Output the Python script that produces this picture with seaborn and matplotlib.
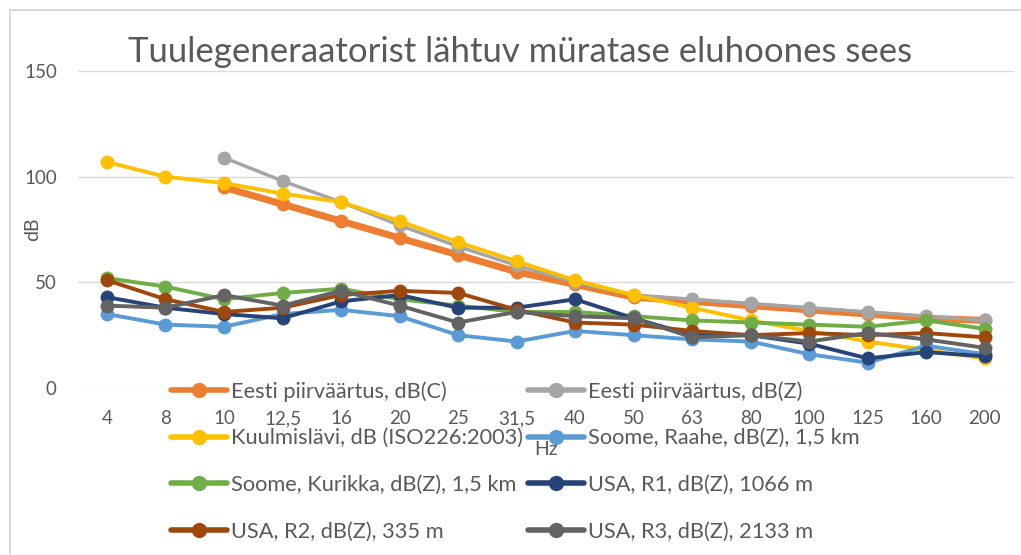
# Tuulegeneraatorist lähtuv müratase eluhoones sees
import numpy as np
import pandas as pd
import seaborn as sns
import matplotlib.pyplot as plt
from matplotlib.patches import Rectangle
from matplotlib.lines import Line2D

hz = ['4', '8', '10', '12,5', '16', '20', '25', '31,5', '40', '50', '63', '80', '100', '125', '160', '200']
nan = np.nan

eesti_c = [nan, nan, 95, 87, 79, 71, 63, 55, 49, 43, 41, 39, 37, 35, 33, 32]
eesti_z = [nan, nan, 109, 98, 88, 77, 67, 58, 50, 44, 42, 40, 38, 36, 34, 32]
kuulmis = [107, 100, 97, 92, 88, 79, 69, 60, 51, 44, 38, 32, 27, 22, 18, 14]
raahe = [35, 30, 29, 35, 37, 34, 25, 22, 27, 25, 23, 22, 16, 12, 20, 16]
kurikka = [52, 48, 42, 45, 47, 42, 39, 36, 36, 34, 32, 31, 30, 29, 32, 28]
usa_r1 = [43, 38, 35, 33, 41, 44, 38, 38, 42, 33, 25, 25, 21, 14, 17, 15]
usa_r2 = [51, 42, 36, 38, 44, 46, 45, 37, 31, 30, 27, 25, 26, 25, 26, 24]
usa_r3 = [39, 38, 44, 39, 46, 39, 31, 36, 34, 33, 24, 25, 22, 26, 23, 19]

series = [
    ('Eesti piirväärtus, dB(C)', eesti_c, '#ED7D31', 5),
    ('Eesti piirväärtus, dB(Z)', eesti_z, '#A5A5A5', 2.5),
    ('Kuulmislävi, dB (ISO226:2003)', kuulmis, '#FFC000', 2.8),
    ('Soome, Raahe, dB(Z), 1,5 km', raahe, '#5B9BD5', 2.8),
    ('Soome, Kurikka, dB(Z), 1,5 km', kurikka, '#70AD47', 2.8),
    ('USA, R1, dB(Z), 1066 m', usa_r1, '#264478', 2.8),
    ('USA, R2, dB(Z), 335 m', usa_r2, '#9E480E', 2.8),
    ('USA, R3, dB(Z), 2133 m', usa_r3, '#636363', 2.8),
]

sns.set_style('white')
plt.rcParams['font.family'] = ['Lato', 'DejaVu Sans']
txt = '#595959'

fig = plt.figure(figsize=(10.21, 5.55), dpi=100)
ax = fig.add_axes([0.0761, 0.3009, 0.917, 0.571])
# chart area border (cropped on the right and bottom)
fig.patches.append(Rectangle((9.5 / 1021, -0.1), 1.2, 1.1 - 9.5 / 555, transform=fig.transFigure,
                             fill=False, edgecolor='#d9d9d9', lw=1.5))

pos = np.arange(len(hz))
for name, vals, col, lw in series:
    df = pd.DataFrame({'x': pos, 'y': vals}).dropna()
    sns.lineplot(data=df, x='x', y='y', ax=ax, color=col, lw=lw, marker='o',
                 markersize=10, markeredgewidth=0, legend=False)

ax.set_xlim(-0.5, len(hz) - 0.5)
ax.set_ylim(0, 150)
ax.set_yticks([0, 50, 100, 150])
ax.set_xticks(pos)
ax.set_xticklabels(hz)
ax.grid(axis='y', color='#d9d9d9', lw=1)
ax.set_axisbelow(True)
for s in ax.spines.values():
    s.set_visible(False)
ax.tick_params(axis='x', length=0, pad=16, labelsize=13.5, labelcolor=txt)
ax.tick_params(axis='y', length=0, pad=15, labelsize=13.5, labelcolor=txt)

ax.set_xlabel('Hz', fontsize=14, color=txt)
ax.xaxis.set_label_coords(0.5, -0.168)
ax.set_ylabel('dB', fontsize=14, color=txt)
ax.yaxis.set_label_coords(-0.039, 0.5)

fig.text(0.509, 1 - 62 / 555, 'Tuulegeneraatorist lähtuv müratase eluhoones sees',
         ha='center', va='baseline', fontsize=25, color=txt)

# Excel fills legend row by row; matplotlib fills column by column
handles = [Line2D([], [], color=col, lw=4, marker='o', markersize=11, markeredgewidth=0)
           for _, _, col, _ in series]
labels = [name for name, _, _, _ in series]
order = [0, 2, 4, 6, 1, 3, 5, 7]
ax.legend([handles[i] for i in order], [labels[i] for i in order], ncol=2,
          loc='upper left', bbox_to_anchor=(171 / 1021, 1 - 381 / 555),
          bbox_transform=fig.transFigure, frameon=False, fontsize=15.7,
          borderpad=0, borderaxespad=0, handlelength=2.55, handletextpad=0.2,
          columnspacing=0.25, labelspacing=1.22, labelcolor=txt)

fig.savefig('out.png', dpi=100)
